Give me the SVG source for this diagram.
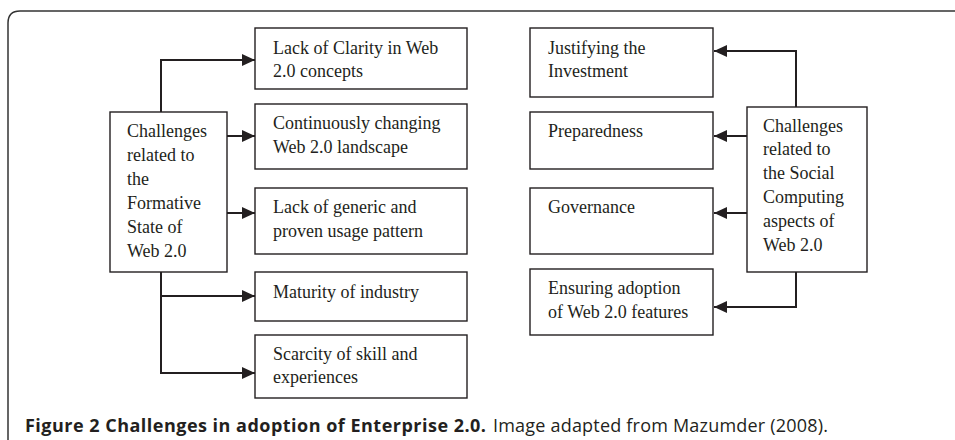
<svg xmlns="http://www.w3.org/2000/svg" width="955" height="440" viewBox="0 0 955 440">
<defs>
<marker id="ah" markerWidth="13" markerHeight="12" refX="13" refY="6" orient="auto" markerUnits="userSpaceOnUse">
<path d="M0,0 L13,6 L0,12 Z" fill="#231f20"/>
</marker>
</defs>
<style>
.box{fill:#fff;stroke:#231f20;stroke-width:1.4}
.t{font-family:"Liberation Serif","Times New Roman",serif;font-size:18px;fill:#231f20}
.c{fill:none;stroke:#231f20;stroke-width:2}
.cap{font-family:"Open Sans","Noto Sans",sans-serif;font-size:18px;fill:#231f20}
</style>
<rect width="955" height="440" fill="#fff"/>
<path d="M8,440 L8,23 Q8,11 20,11 L955,11" fill="none" stroke="#333" stroke-width="1.5"/>
<g id="connectors">
<path class="c" d="M161,112 L161,60 L255,60" marker-end="url(#ah)"/>
<path class="c" d="M227,136 L255,136" marker-end="url(#ah)"/>
<path class="c" d="M227,213 L255,213" marker-end="url(#ah)"/>
<path class="c" d="M161,272 L161,373 L255,373" marker-end="url(#ah)"/>
<path class="c" d="M161,296 L255,296" marker-end="url(#ah)"/>
<path class="c" d="M796,107 L796,51 L714,51" marker-end="url(#ah)"/>
<path class="c" d="M747,136 L714,136" marker-end="url(#ah)"/>
<path class="c" d="M747,213 L714,213" marker-end="url(#ah)"/>
<path class="c" d="M796,272 L796,307 L714,307" marker-end="url(#ah)"/>
</g>
<g id="formative">
<rect class="box" x="110" y="112" width="117" height="160"/>
<text class="t" x="127" y="137">Challenges</text>
<text class="t" x="127" y="161">related to</text>
<text class="t" x="127" y="185">the</text>
<text class="t" x="127" y="209">Formative</text>
<text class="t" x="127" y="233">State of</text>
<text class="t" x="127" y="257">Web 2.0</text>
</g>
<g id="clarity">
<rect class="box" x="255" y="28" width="212" height="61"/>
<text class="t" x="273" y="54">Lack of Clarity in Web</text>
<text class="t" x="273" y="77">2.0 concepts</text>
</g>
<g id="landscape">
<rect class="box" x="255" y="104" width="212" height="65"/>
<text class="t" x="273" y="129">Continuously changing</text>
<text class="t" x="273" y="153">Web 2.0 landscape</text>
</g>
<g id="usage">
<rect class="box" x="255" y="188" width="212" height="66"/>
<text class="t" x="273" y="213">Lack of generic and</text>
<text class="t" x="273" y="237">proven usage pattern</text>
</g>
<g id="maturity">
<rect class="box" x="255" y="272" width="212" height="49"/>
<text class="t" x="273" y="298">Maturity of industry</text>
</g>
<g id="scarcity">
<rect class="box" x="255" y="335" width="212" height="63"/>
<text class="t" x="273" y="360">Scarcity of skill and</text>
<text class="t" x="273" y="383">experiences</text>
</g>
<g id="social">
<rect class="box" x="747" y="107" width="120" height="165"/>
<text class="t" x="763" y="132">Challenges</text>
<text class="t" x="763" y="155">related to</text>
<text class="t" x="763" y="179">the Social</text>
<text class="t" x="763" y="203">Computing</text>
<text class="t" x="763" y="227">aspects of</text>
<text class="t" x="763" y="251">Web 2.0</text>
</g>
<g id="investment">
<rect class="box" x="530" y="28" width="183" height="69"/>
<text class="t" x="548" y="54">Justifying the</text>
<text class="t" x="548" y="77">Investment</text>
</g>
<g id="preparedness">
<rect class="box" x="530" y="112" width="183" height="57"/>
<text class="t" x="548" y="137">Preparedness</text>
</g>
<g id="governance">
<rect class="box" x="530" y="188" width="183" height="66"/>
<text class="t" x="548" y="213">Governance</text>
</g>
<g id="adoption">
<rect class="box" x="530" y="269" width="183" height="66"/>
<text class="t" x="548" y="294">Ensuring adoption</text>
<text class="t" x="548" y="318">of Web 2.0 features</text>
</g>
<text class="cap" x="25" y="432" font-weight="bold" textLength="461" lengthAdjust="spacing">Figure 2 Challenges in adoption of Enterprise 2.0.</text>
<text class="cap" x="493" y="432" fill="#333" textLength="335" lengthAdjust="spacing">Image adapted from Mazumder (2008).</text>
</svg>
